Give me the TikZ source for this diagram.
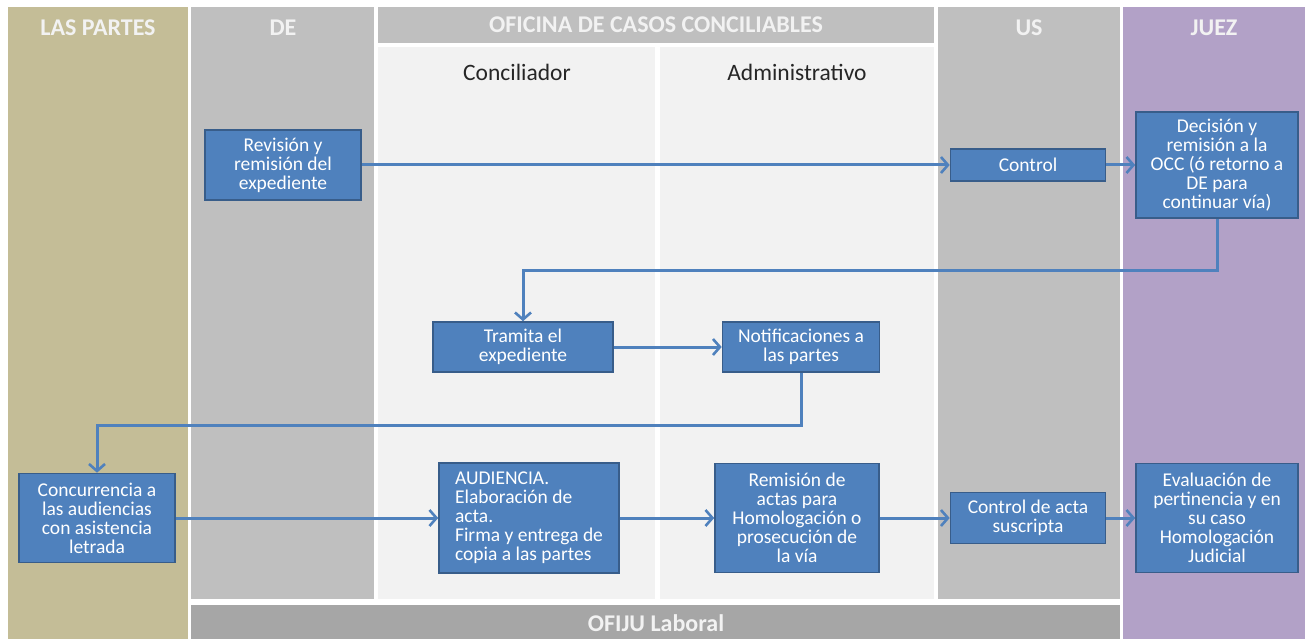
\documentclass[tikz,border=0pt]{standalone}
\usepackage{fontspec}
\setmainfont{Carlito}
\usetikzlibrary{arrows.meta}

\definecolor{partes}{HTML}{C4BD97}
\definecolor{carril}{HTML}{BFBFBF}
\definecolor{claro}{HTML}{F2F2F2}
\definecolor{juez}{HTML}{B2A1C7}
\definecolor{ofiju}{HTML}{A6A6A6}
\definecolor{caja}{HTML}{4F81BD}
\definecolor{borde}{HTML}{385D8A}

\begin{document}
\begin{tikzpicture}[x=1pt, y=-1pt,
			proc/.style={draw=borde, fill=caja, text=white, line width=1.6pt, align=center,
				font=\fontsize{19.5}{19}\selectfont, inner sep=2pt},
			head/.style={text=claro, font=\fontsize{24}{26}\selectfont\bfseries},
			sub/.style={text=black!85, font=\fontsize{23.5}{25}\selectfont},
			flow/.style={draw=caja, line width=3pt, -{Straight Barb[length=7pt, width=16pt, line width=2.6pt]}}]

		\useasboundingbox (0,0) rectangle (1309,639);
		\fill[white] (0,0) rectangle (1309,639);

		% carriles
		\fill[partes] (8,7) rectangle (188,639);
		\fill[carril] (191,7) rectangle (374,599);
		\fill[carril] (378,7) rectangle (934,43);
		\fill[claro] (378,47) rectangle (655,599);
		\fill[claro] (660,47) rectangle (934,599);
		\fill[carril] (938,7) rectangle (1120,599);
		\fill[juez] (1123,7) rectangle (1305,639);
		\fill[ofiju] (191,605) rectangle (1120,639);

		\node[head] (hpartes) at (98,28) {LAS PARTES};
		\node[head] (hde) at (283,28) {DE};
		\node[head] (hocc) at (656,25) {OFICINA DE CASOS CONCILIABLES};
		\node[head] (hus) at (1029,28) {US};
		\node[head] (hjuez) at (1214,28) {JUEZ};
		\node[head] (hofiju) at (656,623) {OFIJU Laboral};
		\node[sub] (hconc) at (517,72) {Conciliador};
		\node[sub] (hadm) at (797,72) {Administrativo};

		% procesos
		\node[proc, minimum width=156pt, minimum height=70pt] (rev) at (283,165) {Revisión y\\remisión del\\expediente};
		\node[proc, minimum width=155pt, minimum height=32pt] (ctrl) at (1028,165) {Control};
		\node[proc, minimum width=162pt, minimum height=106pt] (dec) at (1217,165) {Decisión y\\remisión a la\\OCC (ó retorno a\\DE para\\continuar vía)};
		\node[proc, minimum width=180pt, minimum height=50pt] (tram) at (523,347) {Tramita el\\expediente};
		\node[proc, minimum width=157pt, minimum height=50pt] (notif) at (801,347) {Notificaciones a\\las partes};
		\node[proc, minimum width=156pt, minimum height=89pt] (conc) at (97,518) {Concurrencia a\\las audiencias\\con asistencia\\letrada};
		\node[proc, minimum width=180pt, minimum height=110pt, align=left] (aud) at (529,518) {AUDIENCIA.\\Elaboración de\\acta.\\Firma y entrega de\\copia a las partes};
		\node[proc, minimum width=164pt, minimum height=109pt] (remi) at (797,518) {Remisión de\\actas para\\Homologación o\\prosecución de\\la vía};
		\node[proc, minimum width=155pt, minimum height=51pt] (ctacta) at (1028,518) {Control de acta\\suscripta};
		\node[proc, minimum width=162pt, minimum height=109pt] (eval) at (1217,518) {Evaluación de\\pertinencia y en\\su caso\\Homologación\\Judicial};

		% conectores
		\draw[flow] (rev) -- (ctrl);
		\draw[flow] (ctrl) -- (dec);
		\draw[flow] (dec.south) -- ++(0,52) -| (tram.north);
		\draw[flow] (tram) -- (notif);
		\draw[flow] (notif.south) -- ++(0,53) -| (conc.north);
		\draw[flow] (conc) -- (aud);
		\draw[flow] (aud) -- (remi);
		\draw[flow] (remi) -- (ctacta);
		\draw[flow] (ctacta) -- (eval);
	\end{tikzpicture}
\end{document}
